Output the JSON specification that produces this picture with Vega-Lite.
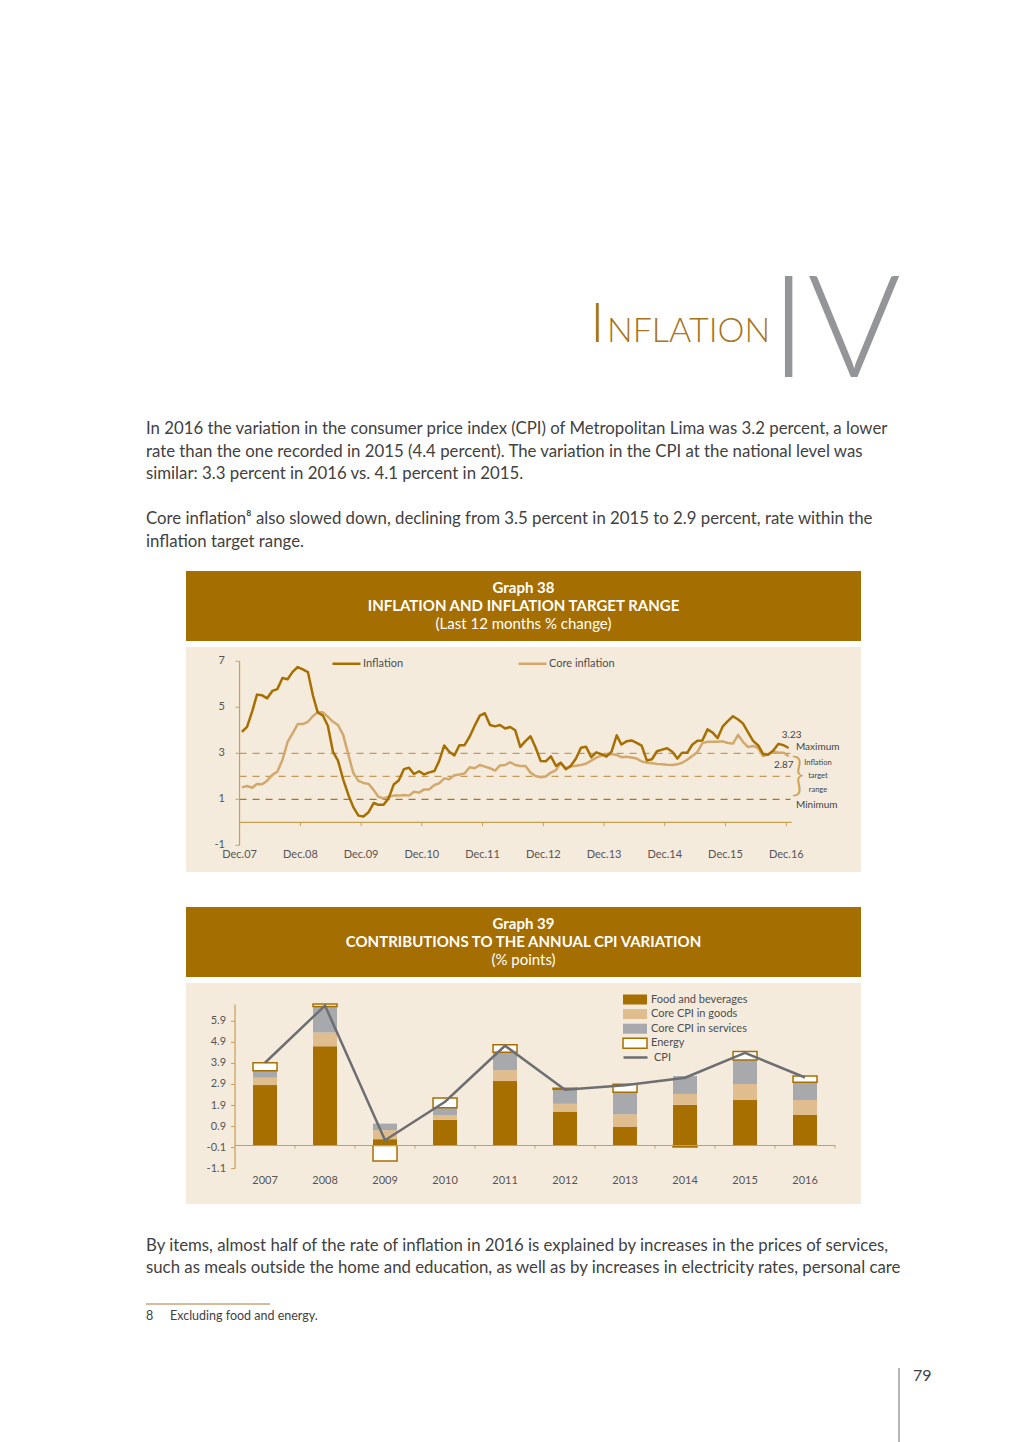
{
  "$schema": "https://vega.github.io/schema/vega-lite/v6.json",
  "background": "#ffffff",
  "padding": {"left": 145, "top": 200, "right": 0, "bottom": 0},
  "config": {
    "font": "Lato",
    "view": {"stroke": null},
    "legend": {"labelFont": "Lato"}
  },
  "datasets": {
    "comps": [
      {"comp": "Food and beverages", "k": 1},
      {"comp": "Core CPI in goods", "k": 2},
      {"comp": "Core CPI in services", "k": 3},
      {"comp": "Energy", "k": 4}
    ],
    "cpi": [
      {"year": 2007, "cpi": 3.93},
      {"year": 2008, "cpi": 6.65},
      {"year": 2009, "cpi": 0.25},
      {"year": 2010, "cpi": 2.08},
      {"year": 2011, "cpi": 4.74},
      {"year": 2012, "cpi": 2.65},
      {"year": 2013, "cpi": 2.86},
      {"year": 2014, "cpi": 3.22},
      {"year": 2015, "cpi": 4.40},
      {"year": 2016, "cpi": 3.23}
    ]
  },
  "spacing": 6,
  "bounds": "flush",
  "center": true,
  "resolve": {
    "scale": {"color": "independent", "fill": "independent", "stroke": "independent"},
    "legend": {"color": "independent", "fill": "independent", "stroke": "independent"}
  },
  "vconcat": [
    {
      "width": 755, "height": 189,
      "layer": [
        {
          "data": {"values": [{"t": "IV"}]},
          "mark": {"type": "text", "align": "right", "baseline": "alphabetic", "fontSize": 143, "fontWeight": 300, "color": "#939598"},
          "encoding": {
            "text": {"field": "t"},
            "x": {"datum": 755, "type": "quantitative", "scale": {"domain": [0, 755], "nice": false, "zero": false}, "axis": null},
            "y": {"datum": 177, "type": "quantitative", "scale": {"domain": [0, 189], "nice": false, "zero": false, "reverse": true}, "axis": null}
          }
        },
        {
          "data": {"values": [{"t": "I"}]},
          "mark": {"type": "text", "align": "left", "baseline": "alphabetic", "fontSize": 56, "fontWeight": 300, "color": "#a87420"},
          "encoding": {
            "text": {"field": "t"},
            "x": {"datum": 444, "type": "quantitative", "axis": null},
            "y": {"datum": 142, "type": "quantitative", "axis": null}
          }
        },
        {
          "data": {"values": [{"t": "NFLATION"}]},
          "mark": {"type": "text", "align": "left", "baseline": "alphabetic", "fontSize": 34, "fontWeight": 300, "color": "#a87420"},
          "encoding": {
            "text": {"field": "t"},
            "x": {"datum": 461, "type": "quantitative", "axis": null},
            "y": {"datum": 142, "type": "quantitative", "axis": null}
          }
        }
      ]
    },
    {
      "width": 755, "height": 170,
      "data": {"values": [
        {"line": 0, "text": "In 2016 the variation in the consumer price index (CPI) of Metropolitan Lima was 3.2 percent, a lower"},
        {"line": 1, "text": "rate than the one recorded in 2015 (4.4 percent). The variation in the CPI at the national level was"},
        {"line": 2, "text": "similar: 3.3 percent in 2016 vs. 4.1 percent in 2015."},
        {"line": 4, "text": "Core inflation⁸ also slowed down, declining from 3.5 percent in 2015 to 2.9 percent, rate within the"},
        {"line": 5, "text": "inflation target range."}
      ]},
      "mark": {"type": "text", "align": "left", "baseline": "middle", "fontSize": 16.8, "color": "#414141"},
      "encoding": {
        "text": {"field": "text"},
        "x": {"datum": 0, "type": "quantitative", "scale": {"domain": [0, 755], "nice": false, "zero": false}, "axis": null},
        "y": {"field": "line", "type": "quantitative", "scale": {"domain": [-1.54, 6.049], "nice": false, "zero": false, "reverse": true}, "axis": null}
      }
    },
    {
      "width": 675, "height": 70,
      "view": {"fill": "#a56e00", "stroke": null},
      "data": {"values": [
        {"line": 1, "text": "Graph 38"},
        {"line": 2, "text": "INFLATION AND INFLATION TARGET RANGE"},
        {"line": 3, "text": "(Last 12 months % change)"}
      ]},
      "encoding": {
        "text": {"field": "text"},
        "y": {"field": "line", "type": "ordinal", "scale": {"type": "point", "padding": 0.9}, "axis": null}
      },
      "layer": [
        {"transform": [{"filter": "datum.line < 3"}], "mark": {"type": "text", "color": "#ffffff", "fontSize": 15, "fontWeight": "bold", "baseline": "middle", "align": "center"}},
        {"transform": [{"filter": "datum.line === 3"}], "mark": {"type": "text", "color": "#ffffff", "fontSize": 15, "fontWeight": "normal", "baseline": "middle", "align": "center"}}
      ]
    },
    {
      "width": 675, "height": 225,
      "view": {"fill": "#f5ebdd", "stroke": null},
      "layer": [
        {
          "data": {"values": [{"level": 3}, {"level": 2}, {"level": 1}]},
          "mark": {"type": "rule", "strokeDash": [7, 6], "strokeWidth": 1.2},
          "encoding": {
            "x": {"datum": {"year": 2007, "month": 12, "date": 1, "utc": true}, "type": "temporal", "scale": {"type": "utc", "nice": false, "domain": [{"year": 2007, "month": 1, "date": 13, "utc": true}, {"year": 2018, "month": 2, "date": 23, "utc": true}]}, "axis": null},
            "x2": {"datum": {"year": 2016, "month": 12, "date": 26, "utc": true}},
            "y": {"field": "level", "type": "quantitative", "scale": {"domain": [-2.16, 7.62], "nice": false, "zero": false}, "axis": null},
            "stroke": {"condition": {"test": "datum.level === 1", "value": "#a8781f"}, "value": "#c29a5c"}
          }
        },
        {
          "data": {"values": [{}]},
          "mark": {"type": "rule", "color": "#c9a052", "strokeWidth": 1.2},
          "encoding": {
            "x": {"datum": {"year": 2007, "month": 12, "date": 1, "utc": true}, "type": "temporal", "axis": null},
            "y": {"datum": -1, "type": "quantitative", "axis": null},
            "y2": {"datum": 7}
          }
        },
        {
          "data": {"values": [{}]},
          "mark": {"type": "rule", "color": "#c9a052", "strokeWidth": 1.2},
          "encoding": {
            "x": {"datum": {"year": 2007, "month": 12, "date": 1, "utc": true}, "type": "temporal", "axis": null},
            "x2": {"datum": {"year": 2017, "month": 1, "date": 2, "utc": true}},
            "y": {"datum": 0, "type": "quantitative", "axis": null}
          }
        },
        {
          "data": {"values": [{"v": -1, "label": "-1"}, {"v": 1, "label": "1"}, {"v": 3, "label": "3"}, {"v": 5, "label": "5"}, {"v": 7, "label": "7"}]},
          "layer": [
            {
              "mark": {"type": "rule", "color": "#c9a052", "strokeWidth": 1},
              "encoding": {
                "x": {"datum": {"year": 2007, "month": 12, "date": 1, "utc": true}, "type": "temporal", "axis": null},
                "x2": {"datum": {"year": 2007, "month": 11, "date": 7, "utc": true}},
                "y": {"field": "v", "type": "quantitative", "axis": null}
              }
            },
            {
              "mark": {"type": "text", "align": "right", "baseline": "middle", "dx": -14.6, "fontSize": 11, "color": "#555555"},
              "encoding": {
                "text": {"field": "label"},
                "x": {"datum": {"year": 2007, "month": 12, "date": 1, "utc": true}, "type": "temporal", "axis": null},
                "y": {"field": "v", "type": "quantitative", "axis": null}
              }
            }
          ]
        },
        {
          "data": {"values": [
            {"d": "2007-12-01", "label": "Dec.07"}, {"d": "2008-12-01", "label": "Dec.08"}, {"d": "2009-12-01", "label": "Dec.09"},
            {"d": "2010-12-01", "label": "Dec.10"}, {"d": "2011-12-01", "label": "Dec.11"}, {"d": "2012-12-01", "label": "Dec.12"},
            {"d": "2013-12-01", "label": "Dec.13"}, {"d": "2014-12-01", "label": "Dec.14"}, {"d": "2015-12-01", "label": "Dec.15"},
            {"d": "2016-12-01", "label": "Dec.16"}
          ]},
          "layer": [
            {
              "mark": {"type": "rule", "color": "#c9a052", "strokeWidth": 1},
              "encoding": {
                "x": {"field": "d", "type": "temporal", "axis": null},
                "y": {"datum": 0, "type": "quantitative", "axis": null},
                "y2": {"datum": -0.17}
              }
            },
            {
              "mark": {"type": "text", "align": "center", "baseline": "middle", "fontSize": 11, "color": "#555555"},
              "encoding": {
                "text": {"field": "label"},
                "x": {"field": "d", "type": "temporal", "axis": null},
                "y": {"datum": -1.42, "type": "quantitative", "axis": null}
              }
            }
          ]
        },
        {
          "data": {"values": [
            {"d": "2007-12-15", "inf": 3.93, "core": 1.52},
            {"d": "2008-01-15", "inf": 4.15, "core": 1.58},
            {"d": "2008-02-15", "inf": 4.82, "core": 1.50},
            {"d": "2008-03-15", "inf": 5.55, "core": 1.67},
            {"d": "2008-04-15", "inf": 5.52, "core": 1.65},
            {"d": "2008-05-15", "inf": 5.39, "core": 1.81},
            {"d": "2008-06-15", "inf": 5.71, "core": 2.06},
            {"d": "2008-07-15", "inf": 5.79, "core": 2.20},
            {"d": "2008-08-15", "inf": 6.27, "core": 2.71},
            {"d": "2008-09-15", "inf": 6.22, "core": 3.50},
            {"d": "2008-10-15", "inf": 6.54, "core": 3.87},
            {"d": "2008-11-15", "inf": 6.75, "core": 4.27},
            {"d": "2008-12-15", "inf": 6.65, "core": 4.27},
            {"d": "2009-01-15", "inf": 6.53, "core": 4.37},
            {"d": "2009-02-15", "inf": 5.49, "core": 4.62},
            {"d": "2009-03-15", "inf": 4.78, "core": 4.78},
            {"d": "2009-04-15", "inf": 4.64, "core": 4.78},
            {"d": "2009-05-15", "inf": 4.20, "core": 4.59},
            {"d": "2009-06-15", "inf": 3.06, "core": 4.37},
            {"d": "2009-07-15", "inf": 2.68, "core": 4.23},
            {"d": "2009-08-15", "inf": 1.87, "core": 3.80},
            {"d": "2009-09-15", "inf": 1.20, "core": 2.95},
            {"d": "2009-10-15", "inf": 0.66, "core": 2.15},
            {"d": "2009-11-15", "inf": 0.29, "core": 1.80},
            {"d": "2009-12-15", "inf": 0.25, "core": 1.71},
            {"d": "2010-01-15", "inf": 0.44, "core": 1.67},
            {"d": "2010-02-15", "inf": 0.84, "core": 1.40},
            {"d": "2010-03-15", "inf": 0.76, "core": 1.11},
            {"d": "2010-04-15", "inf": 0.76, "core": 1.04},
            {"d": "2010-05-15", "inf": 1.04, "core": 1.11},
            {"d": "2010-06-15", "inf": 1.64, "core": 1.16},
            {"d": "2010-07-15", "inf": 1.82, "core": 1.16},
            {"d": "2010-08-15", "inf": 2.31, "core": 1.19},
            {"d": "2010-09-15", "inf": 2.37, "core": 1.16},
            {"d": "2010-10-15", "inf": 2.10, "core": 1.33},
            {"d": "2010-11-15", "inf": 2.22, "core": 1.29},
            {"d": "2010-12-15", "inf": 2.08, "core": 1.43},
            {"d": "2011-01-15", "inf": 2.17, "core": 1.43},
            {"d": "2011-02-15", "inf": 2.23, "core": 1.62},
            {"d": "2011-03-15", "inf": 2.66, "core": 1.69},
            {"d": "2011-04-15", "inf": 3.34, "core": 1.91},
            {"d": "2011-05-15", "inf": 3.07, "core": 1.87},
            {"d": "2011-06-15", "inf": 2.91, "core": 2.05},
            {"d": "2011-07-15", "inf": 3.35, "core": 2.08},
            {"d": "2011-08-15", "inf": 3.35, "core": 2.12},
            {"d": "2011-09-15", "inf": 3.73, "core": 2.39},
            {"d": "2011-10-15", "inf": 4.20, "core": 2.35},
            {"d": "2011-11-15", "inf": 4.64, "core": 2.49},
            {"d": "2011-12-15", "inf": 4.74, "core": 2.42},
            {"d": "2012-01-15", "inf": 4.23, "core": 2.35},
            {"d": "2012-02-15", "inf": 4.17, "core": 2.25},
            {"d": "2012-03-15", "inf": 4.23, "core": 2.47},
            {"d": "2012-04-15", "inf": 4.08, "core": 2.49},
            {"d": "2012-05-15", "inf": 4.14, "core": 2.61},
            {"d": "2012-06-15", "inf": 4.00, "core": 2.49},
            {"d": "2012-07-15", "inf": 3.28, "core": 2.45},
            {"d": "2012-08-15", "inf": 3.53, "core": 2.45},
            {"d": "2012-09-15", "inf": 3.74, "core": 2.16},
            {"d": "2012-10-15", "inf": 3.25, "core": 2.01},
            {"d": "2012-11-15", "inf": 2.66, "core": 1.96},
            {"d": "2012-12-15", "inf": 2.65, "core": 1.99},
            {"d": "2013-01-15", "inf": 2.87, "core": 2.16},
            {"d": "2013-02-15", "inf": 2.45, "core": 2.27},
            {"d": "2013-03-15", "inf": 2.59, "core": 2.59},
            {"d": "2013-04-15", "inf": 2.31, "core": 2.35},
            {"d": "2013-05-15", "inf": 2.46, "core": 2.42},
            {"d": "2013-06-15", "inf": 2.77, "core": 2.46},
            {"d": "2013-07-15", "inf": 3.24, "core": 2.49},
            {"d": "2013-08-15", "inf": 3.28, "core": 2.55},
            {"d": "2013-09-15", "inf": 2.83, "core": 2.68},
            {"d": "2013-10-15", "inf": 3.04, "core": 2.81},
            {"d": "2013-11-15", "inf": 2.96, "core": 2.90},
            {"d": "2013-12-15", "inf": 2.86, "core": 2.95},
            {"d": "2014-01-15", "inf": 3.07, "core": 2.97},
            {"d": "2014-02-15", "inf": 3.78, "core": 2.93},
            {"d": "2014-03-15", "inf": 3.38, "core": 2.83},
            {"d": "2014-04-15", "inf": 3.52, "core": 2.85},
            {"d": "2014-05-15", "inf": 3.56, "core": 2.82},
            {"d": "2014-06-15", "inf": 3.45, "core": 2.77},
            {"d": "2014-07-15", "inf": 3.33, "core": 2.65},
            {"d": "2014-08-15", "inf": 2.69, "core": 2.59},
            {"d": "2014-09-15", "inf": 2.74, "core": 2.57},
            {"d": "2014-10-15", "inf": 3.09, "core": 2.54},
            {"d": "2014-11-15", "inf": 3.16, "core": 2.52},
            {"d": "2014-12-15", "inf": 3.22, "core": 2.50},
            {"d": "2015-01-15", "inf": 3.07, "core": 2.49},
            {"d": "2015-02-15", "inf": 2.77, "core": 2.52},
            {"d": "2015-03-15", "inf": 3.02, "core": 2.59},
            {"d": "2015-04-15", "inf": 3.02, "core": 2.72},
            {"d": "2015-05-15", "inf": 3.37, "core": 2.88},
            {"d": "2015-06-15", "inf": 3.54, "core": 3.05},
            {"d": "2015-07-15", "inf": 3.56, "core": 3.44},
            {"d": "2015-08-15", "inf": 4.04, "core": 3.50},
            {"d": "2015-09-15", "inf": 3.90, "core": 3.50},
            {"d": "2015-10-15", "inf": 3.66, "core": 3.50},
            {"d": "2015-11-15", "inf": 4.17, "core": 3.52},
            {"d": "2015-12-15", "inf": 4.40, "core": 3.45},
            {"d": "2016-01-15", "inf": 4.61, "core": 3.42},
            {"d": "2016-02-15", "inf": 4.47, "core": 3.80},
            {"d": "2016-03-15", "inf": 4.30, "core": 3.50},
            {"d": "2016-04-15", "inf": 3.91, "core": 3.27},
            {"d": "2016-05-15", "inf": 3.54, "core": 3.32},
            {"d": "2016-06-15", "inf": 3.34, "core": 3.22},
            {"d": "2016-07-15", "inf": 2.96, "core": 2.88},
            {"d": "2016-08-15", "inf": 2.94, "core": 2.97},
            {"d": "2016-09-15", "inf": 3.13, "core": 3.07},
            {"d": "2016-10-15", "inf": 3.41, "core": 3.02},
            {"d": "2016-11-15", "inf": 3.35, "core": 3.02},
            {"d": "2016-12-15", "inf": 3.23, "core": 2.87}
          ]},
          "transform": [{"fold": ["core", "inf"], "as": ["series", "val"]}],
          "mark": {"type": "line", "strokeWidth": 2.5, "strokeJoin": "round"},
          "encoding": {
            "x": {"field": "d", "type": "temporal", "axis": null},
            "y": {"field": "val", "type": "quantitative", "axis": null},
            "color": {
              "field": "series", "type": "nominal",
              "scale": {"domain": ["inf", "core"], "range": ["#a66f00", "#d2a86c"]},
              "legend": {
                "title": null, "orient": "none", "legendX": 145, "legendY": 1, "direction": "horizontal",
                "symbolType": "stroke", "symbolSize": 784, "symbolStrokeWidth": 2.5,
                "labelFontSize": 11, "labelColor": "#4d4d4d", "labelOffset": 1, "columnPadding": 109,
                "labelExpr": "datum.value === 'inf' ? 'Inflation' : 'Core inflation'"
              }
            }
          }
        },
        {
          "data": {"values": [{"t": "3.23", "d": "2016-12-15", "v": 3.23}]},
          "mark": {"type": "text", "align": "center", "baseline": "middle", "dx": 3, "dy": -13, "fontSize": 10, "color": "#444444"},
          "encoding": {"text": {"field": "t"}, "x": {"field": "d", "type": "temporal", "axis": null}, "y": {"field": "v", "type": "quantitative", "axis": null}}
        },
        {
          "data": {"values": [{"t": "2.87", "d": "2016-12-15", "v": 2.87}]},
          "mark": {"type": "text", "align": "right", "baseline": "middle", "dx": 5, "dy": 9, "fontSize": 10, "color": "#444444"},
          "encoding": {"text": {"field": "t"}, "x": {"field": "d", "type": "temporal", "axis": null}, "y": {"field": "v", "type": "quantitative", "axis": null}}
        },
        {
          "data": {"values": [{"t": "Maximum", "v": 3}]},
          "mark": {"type": "text", "align": "left", "baseline": "bottom", "dy": -1, "fontSize": 10, "color": "#444444"},
          "encoding": {"text": {"field": "t"}, "x": {"datum": {"year": 2017, "month": 1, "date": 28, "utc": true}, "type": "temporal", "axis": null}, "y": {"field": "v", "type": "quantitative", "axis": null}}
        },
        {
          "data": {"values": [{"t": "Minimum", "v": 1}]},
          "mark": {"type": "text", "align": "left", "baseline": "top", "dy": 1, "fontSize": 10, "color": "#444444"},
          "encoding": {"text": {"field": "t"}, "x": {"datum": {"year": 2017, "month": 1, "date": 28, "utc": true}, "type": "temporal", "axis": null}, "y": {"field": "v", "type": "quantitative", "axis": null}}
        },
        {
          "data": {"values": [{"t": "Inflation\ntarget\nrange", "v": 2}]},
          "mark": {"type": "text", "align": "center", "baseline": "middle", "dy": -13.5, "fontSize": 7.5, "lineBreak": "\n", "lineHeight": 13.5, "color": "#444444"},
          "encoding": {"text": {"field": "t"}, "x": {"datum": {"year": 2017, "month": 6, "date": 9, "utc": true}, "type": "temporal", "axis": null}, "y": {"field": "v", "type": "quantitative", "axis": null}}
        },
        {
          "data": {"values": [{"t": "}", "v": 2}]},
          "mark": {"type": "text", "align": "center", "baseline": "middle", "fontSize": 45, "fontWeight": 300, "color": "#c8a058"},
          "encoding": {"text": {"field": "t"}, "x": {"datum": {"year": 2017, "month": 2, "date": 9, "utc": true}, "type": "temporal", "axis": null}, "y": {"field": "v", "type": "quantitative", "axis": null}}
        }
      ]
    },
    {
      "width": 755, "height": 23,
      "data": {"values": []},
      "mark": "point"
    },
    {
      "width": 675, "height": 70,
      "view": {"fill": "#a56e00", "stroke": null},
      "data": {"values": [
        {"line": 1, "text": "Graph 39"},
        {"line": 2, "text": "CONTRIBUTIONS TO THE ANNUAL CPI VARIATION"},
        {"line": 3, "text": "(% points)"}
      ]},
      "encoding": {
        "text": {"field": "text"},
        "y": {"field": "line", "type": "ordinal", "scale": {"type": "point", "padding": 0.9}, "axis": null}
      },
      "layer": [
        {"transform": [{"filter": "datum.line < 3"}], "mark": {"type": "text", "color": "#ffffff", "fontSize": 15, "fontWeight": "bold", "baseline": "middle", "align": "center"}},
        {"transform": [{"filter": "datum.line === 3"}], "mark": {"type": "text", "color": "#ffffff", "fontSize": 15, "fontWeight": "normal", "baseline": "middle", "align": "center"}}
      ]
    },
    {
      "width": 675, "height": 221,
      "view": {"fill": "#f5ebdd", "stroke": null},
      "layer": [
        {
          "data": {"values": [
            {"year": 2007, "comp": "Food and beverages", "val": 2.87},
            {"year": 2007, "comp": "Core CPI in goods", "val": 0.35},
            {"year": 2007, "comp": "Core CPI in services", "val": 0.33},
            {"year": 2007, "comp": "Energy", "val": 0.38},
            {"year": 2008, "comp": "Food and beverages", "val": 4.72},
            {"year": 2008, "comp": "Core CPI in goods", "val": 0.65},
            {"year": 2008, "comp": "Core CPI in services", "val": 1.23},
            {"year": 2008, "comp": "Energy", "val": 0.12},
            {"year": 2009, "comp": "Food and beverages", "val": 0.30},
            {"year": 2009, "comp": "Core CPI in goods", "val": 0.43},
            {"year": 2009, "comp": "Core CPI in services", "val": 0.31},
            {"year": 2009, "comp": "Energy", "val": -0.74},
            {"year": 2010, "comp": "Food and beverages", "val": 1.22},
            {"year": 2010, "comp": "Core CPI in goods", "val": 0.23},
            {"year": 2010, "comp": "Core CPI in services", "val": 0.34},
            {"year": 2010, "comp": "Energy", "val": 0.47},
            {"year": 2011, "comp": "Food and beverages", "val": 3.06},
            {"year": 2011, "comp": "Core CPI in goods", "val": 0.52},
            {"year": 2011, "comp": "Core CPI in services", "val": 0.85},
            {"year": 2011, "comp": "Energy", "val": 0.36},
            {"year": 2012, "comp": "Food and beverages", "val": 1.61},
            {"year": 2012, "comp": "Core CPI in goods", "val": 0.37},
            {"year": 2012, "comp": "Core CPI in services", "val": 0.69},
            {"year": 2012, "comp": "Energy", "val": 0.05},
            {"year": 2013, "comp": "Food and beverages", "val": 0.88},
            {"year": 2013, "comp": "Core CPI in goods", "val": 0.60},
            {"year": 2013, "comp": "Core CPI in services", "val": 1.05},
            {"year": 2013, "comp": "Energy", "val": 0.38},
            {"year": 2014, "comp": "Food and beverages", "val": 1.93},
            {"year": 2014, "comp": "Core CPI in goods", "val": 0.52},
            {"year": 2014, "comp": "Core CPI in services", "val": 0.85},
            {"year": 2014, "comp": "Energy", "val": -0.07},
            {"year": 2015, "comp": "Food and beverages", "val": 2.16},
            {"year": 2015, "comp": "Core CPI in goods", "val": 0.76},
            {"year": 2015, "comp": "Core CPI in services", "val": 1.14},
            {"year": 2015, "comp": "Energy", "val": 0.40},
            {"year": 2016, "comp": "Food and beverages", "val": 1.45},
            {"year": 2016, "comp": "Core CPI in goods", "val": 0.71},
            {"year": 2016, "comp": "Core CPI in services", "val": 0.84},
            {"year": 2016, "comp": "Energy", "val": 0.30}
          ]},
          "transform": [{"lookup": "comp", "from": {"data": {"name": "comps"}, "key": "comp", "fields": ["k"]}}],
          "mark": {"type": "bar", "width": 24, "strokeWidth": 1.5},
          "encoding": {
            "x": {"field": "year", "type": "quantitative", "scale": {"domain": [2005.683, 2016.933], "nice": false, "zero": false, "padding": 0}, "axis": null},
            "y": {"field": "val", "type": "quantitative", "stack": "zero", "scale": {"domain": [-2.779, 7.72], "nice": false, "zero": false}, "axis": null},
            "fill": {
              "field": "comp", "type": "nominal",
              "scale": {"domain": ["Food and beverages", "Core CPI in goods", "Core CPI in services", "Energy"], "range": ["#a66f00", "#dfbd8f", "#a7a9ac", "#ffffff"]},
              "legend": {
                "title": null, "orient": "none", "legendX": 443, "legendY": 10.5,
                "symbolType": "M-2.4,-1H2.4V1H-2.4Z", "symbolSize": 100, "symbolStrokeWidth": 1.5,
                "labelFontSize": 11, "labelColor": "#4d4d4d", "labelOffset": 10, "rowPadding": -1.4
              }
            },
            "stroke": {
              "field": "comp", "type": "nominal",
              "scale": {"domain": ["Food and beverages", "Core CPI in goods", "Core CPI in services", "Energy"], "range": ["transparent", "transparent", "transparent", "#a66f00"]},
              "legend": {
                "title": null, "orient": "none", "legendX": 443, "legendY": 10.5,
                "symbolType": "M-2.4,-1H2.4V1H-2.4Z", "symbolSize": 100, "symbolStrokeWidth": 1.5,
                "labelFontSize": 11, "labelColor": "#4d4d4d", "labelOffset": 10, "rowPadding": -1.4
              }
            },
            "order": {"field": "k", "type": "quantitative", "sort": "ascending"}
          }
        },
        {
          "data": {"values": [{}]},
          "mark": {"type": "rule", "color": "#c9a052", "strokeWidth": 1.2},
          "encoding": {
            "x": {"datum": 2006.5, "type": "quantitative", "axis": null},
            "y": {"datum": -1.1, "type": "quantitative", "axis": null},
            "y2": {"datum": 6.7}
          }
        },
        {
          "data": {"values": [{}]},
          "mark": {"type": "rule", "color": "#c9a052", "strokeWidth": 1.2},
          "encoding": {
            "x": {"datum": 2006.5, "type": "quantitative", "axis": null},
            "x2": {"datum": 2016.5},
            "y": {"datum": 0, "type": "quantitative", "axis": null}
          }
        },
        {
          "data": {"values": [
            {"v": -1.1, "label": "-1.1"}, {"v": -0.1, "label": "-0.1"}, {"v": 0.9, "label": "0.9"}, {"v": 1.9, "label": "1.9"},
            {"v": 2.9, "label": "2.9"}, {"v": 3.9, "label": "3.9"}, {"v": 4.9, "label": "4.9"}, {"v": 5.9, "label": "5.9"}
          ]},
          "layer": [
            {
              "mark": {"type": "rule", "color": "#c9a052", "strokeWidth": 1},
              "encoding": {
                "x": {"datum": 2006.5, "type": "quantitative", "axis": null},
                "x2": {"datum": 2006.433},
                "y": {"field": "v", "type": "quantitative", "axis": null}
              }
            },
            {
              "mark": {"type": "text", "align": "right", "baseline": "middle", "dx": -9, "fontSize": 11, "color": "#555555"},
              "encoding": {
                "text": {"field": "label"},
                "x": {"datum": 2006.5, "type": "quantitative", "axis": null},
                "y": {"field": "v", "type": "quantitative", "axis": null}
              }
            }
          ]
        },
        {
          "data": {"name": "cpi"},
          "layer": [
            {
              "mark": {"type": "rule", "color": "#c9a052", "strokeWidth": 1, "xOffset": 30},
              "encoding": {
                "x": {"field": "year", "type": "quantitative", "axis": null},
                "y": {"datum": 0, "type": "quantitative", "axis": null},
                "y2": {"datum": -0.143}
              }
            },
            {
              "mark": {"type": "text", "align": "center", "baseline": "middle", "fontSize": 11, "color": "#555555"},
              "encoding": {
                "text": {"field": "year", "type": "nominal"},
                "x": {"field": "year", "type": "quantitative", "axis": null},
                "y": {"datum": -1.686, "type": "quantitative", "axis": null}
              }
            },
            {
              "mark": {"type": "line", "strokeWidth": 2.5},
              "encoding": {
                "x": {"field": "year", "type": "quantitative", "axis": null},
                "y": {"field": "cpi", "type": "quantitative", "axis": null},
                "color": {
                  "datum": "CPI", "type": "nominal",
                  "scale": {"domain": ["CPI"], "range": ["#6d6e71"]},
                  "legend": {
                    "title": null, "orient": "none", "legendX": 436, "legendY": 61,
                    "symbolType": "stroke", "symbolSize": 576, "symbolStrokeWidth": 2.5,
                    "labelFontSize": 11, "labelColor": "#4d4d4d", "labelOffset": 5
                  }
                }
              }
            }
          ]
        }
      ]
    },
    {
      "width": 755, "height": 70,
      "data": {"values": [
        {"line": 0, "text": "By items, almost half of the rate of inflation in 2016 is explained by increases in the prices of services,"},
        {"line": 1, "text": "such as meals outside the home and education, as well as by increases in electricity rates, personal care"}
      ]},
      "mark": {"type": "text", "align": "left", "baseline": "middle", "fontSize": 16.8, "color": "#414141"},
      "encoding": {
        "text": {"field": "text"},
        "x": {"datum": 0, "type": "quantitative", "scale": {"domain": [0, 755], "nice": false, "zero": false}, "axis": null},
        "y": {"field": "line", "type": "quantitative", "scale": {"domain": [-1.636, 1.545], "nice": false, "zero": false, "reverse": true}, "axis": null}
      }
    },
    {
      "width": 755, "height": 44,
      "layer": [
        {
          "data": {"values": [{}]},
          "mark": {"type": "rule", "color": "#a67c2e", "strokeWidth": 1},
          "encoding": {
            "x": {"datum": 0, "type": "quantitative", "scale": {"domain": [0, 755], "nice": false, "zero": false}, "axis": null},
            "x2": {"datum": 124},
            "y": {"datum": 18, "type": "quantitative", "scale": {"domain": [0, 44], "nice": false, "zero": false, "reverse": true}, "axis": null}
          }
        },
        {
          "data": {"values": [{"t": "8"}]},
          "mark": {"type": "text", "align": "left", "baseline": "middle", "fontSize": 12.5, "color": "#414141"},
          "encoding": {"text": {"field": "t"}, "x": {"datum": 0, "type": "quantitative", "axis": null}, "y": {"datum": 30, "type": "quantitative", "axis": null}}
        },
        {
          "data": {"values": [{"t": "Excluding food and energy."}]},
          "mark": {"type": "text", "align": "left", "baseline": "middle", "fontSize": 12.5, "color": "#414141"},
          "encoding": {"text": {"field": "t"}, "x": {"datum": 24, "type": "quantitative", "axis": null}, "y": {"datum": 30, "type": "quantitative", "axis": null}}
        }
      ]
    },
    {
      "width": 755, "height": 106,
      "layer": [
        {
          "data": {"values": [{}]},
          "mark": {"type": "rule", "color": "#6f6f6f", "strokeWidth": 1},
          "encoding": {
            "x": {"datum": 753, "type": "quantitative", "scale": {"domain": [0, 755], "nice": false, "zero": false}, "axis": null},
            "y": {"datum": 32, "type": "quantitative", "scale": {"domain": [0, 106], "nice": false, "zero": false, "reverse": true}, "axis": null},
            "y2": {"datum": 106}
          }
        },
        {
          "data": {"values": [{"t": "79"}]},
          "mark": {"type": "text", "align": "left", "baseline": "middle", "fontSize": 16, "color": "#414141"},
          "encoding": {"text": {"field": "t"}, "x": {"datum": 767, "type": "quantitative", "axis": null}, "y": {"datum": 40, "type": "quantitative", "axis": null}}
        }
      ]
    }
  ]
}
